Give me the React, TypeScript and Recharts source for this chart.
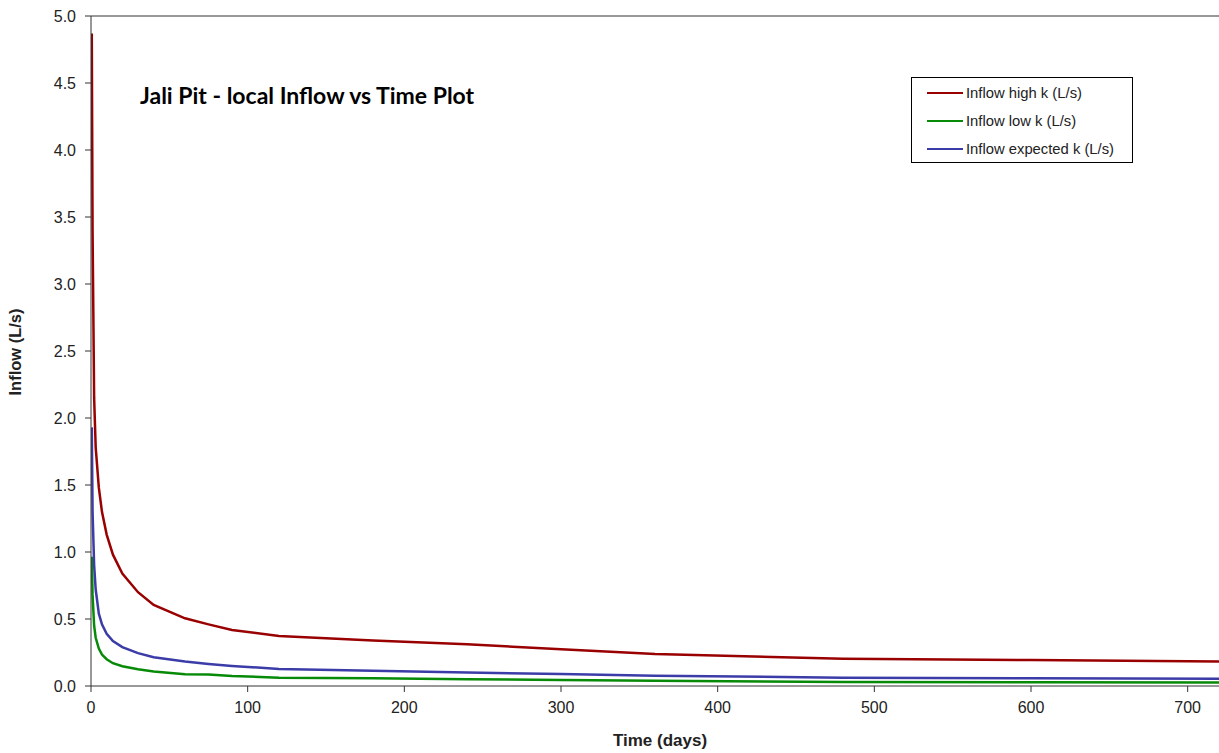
import { LineChart, Line, XAxis, YAxis, ReferenceLine } from 'recharts';

// time steps (days) and modelled inflow for each permeability case (L/s)
const days = [0.5, 1, 2, 3, 5, 7, 10, 14, 20, 30, 40, 60, 75, 90, 120, 180, 240, 300, 360, 480, 600, 720];
const highK = [4.87, 3.4, 2.15, 1.78, 1.48, 1.3, 1.13, 0.98, 0.84, 0.7, 0.605, 0.505, 0.46, 0.418, 0.373, 0.34, 0.311, 0.274, 0.239, 0.203, 0.194, 0.183];
const lowK = [0.965, 0.68, 0.45, 0.36, 0.28, 0.235, 0.2, 0.17, 0.148, 0.125, 0.108, 0.088, 0.086, 0.075, 0.062, 0.057, 0.05, 0.045, 0.04, 0.03, 0.028, 0.027];
const expectedK = [1.93, 1.3, 0.9, 0.72, 0.54, 0.46, 0.39, 0.335, 0.29, 0.245, 0.215, 0.182, 0.165, 0.15, 0.127, 0.113, 0.1, 0.09, 0.077, 0.062, 0.058, 0.054];

const xTicks = [0, 100, 200, 300, 400, 500, 600, 700];
const yTicks = [0, 0.5, 1, 1.5, 2, 2.5, 3, 3.5, 4, 4.5, 5];

const series = [
  { key: 'high', name: 'Inflow high k (L/s)', color: '#990000' },
  { key: 'low', name: 'Inflow low k (L/s)', color: '#078a07' },
  { key: 'expected', name: 'Inflow expected k (L/s)', color: '#3c3ca8' },
];

const data = days.map((t, i) => ({
  t,
  high: highK[i],
  low: lowK[i],
  expected: expectedK[i],
}));

const axisColor = '#333';
const tickStyle = { fill: '#222', fontSize: 16, fontFamily: 'Liberation Sans, Arial, sans-serif' };

function LegendBox() {
  return (
    <div
      style={{
        position: 'absolute',
        left: 911,
        top: 77,
        zIndex: 2,
        border: '1px solid #000',
        background: '#fff',
        width: 222,
        height: 86,
        boxSizing: 'border-box',
        paddingTop: 1,
        fontFamily: 'Liberation Sans, Arial, sans-serif',
        fontSize: 14.8,
        color: '#222',
      }}
    >
      {series.map((s) => (
        <div key={s.key} style={{ display: 'flex', alignItems: 'center', height: 28 }}>
          <div style={{ width: 36, height: 2.5, background: s.color, marginLeft: 15, marginRight: 3 }} />
          <span>{s.name}</span>
        </div>
      ))}
    </div>
  );
}

export default function App() {
  return (
    <div style={{ position: 'absolute', left: 0, top: 0, width: 1219, height: 753, background: '#fff', overflow: 'hidden' }}>
      <div
        style={{
          position: 'absolute',
          left: 140,
          top: 81,
          fontFamily: 'Lato, sans-serif',
          fontWeight: 700,
          fontSize: 23,
          color: '#000',
          zIndex: 2,
          whiteSpace: 'nowrap',
        }}
      >
        Jali Pit - local Inflow vs Time Plot
      </div>
      <LegendBox />
      <LineChart width={1219} height={753} data={data} margin={{ top: 16, right: 0, left: 0, bottom: 37 }}>
        <XAxis
          dataKey="t"
          type="number"
          domain={[0, 720]}
          ticks={xTicks}
          allowDataOverflow
          stroke={axisColor}
          tickSize={6}
          tickMargin={10}
          tick={tickStyle}
          height={30}
          label={() => (
            <text
              x={660}
              y={746}
              textAnchor="middle"
              fontFamily="Liberation Sans, Arial, sans-serif"
              fontWeight="bold"
              fontSize={17}
              fill="#222"
            >
              Time (days)
            </text>
          )}
        />
        <YAxis
          type="number"
          domain={[0, 5]}
          ticks={yTicks}
          allowDataOverflow
          stroke={axisColor}
          width={91}
          tickSize={6}
          tickMargin={9}
          tick={tickStyle}
          tickFormatter={(v: number) => v.toFixed(1)}
          label={() => (
            <text
              x={21}
              y={352}
              transform="rotate(-90, 21, 352)"
              textAnchor="middle"
              fontFamily="Liberation Sans, Arial, sans-serif"
              fontWeight="bold"
              fontSize={16.5}
              fill="#222"
            >
              Inflow (L/s)
            </text>
          )}
        />
        <ReferenceLine y={5} stroke={axisColor} strokeWidth={1} />
        {series.map((s) => (
          <Line
            key={s.key}
            type="linear"
            dataKey={s.key}
            name={s.name}
            stroke={s.color}
            strokeWidth={2.5}
            dot={false}
            activeDot={false}
            isAnimationActive={false}
          />
        ))}
      </LineChart>
    </div>
  );
}
